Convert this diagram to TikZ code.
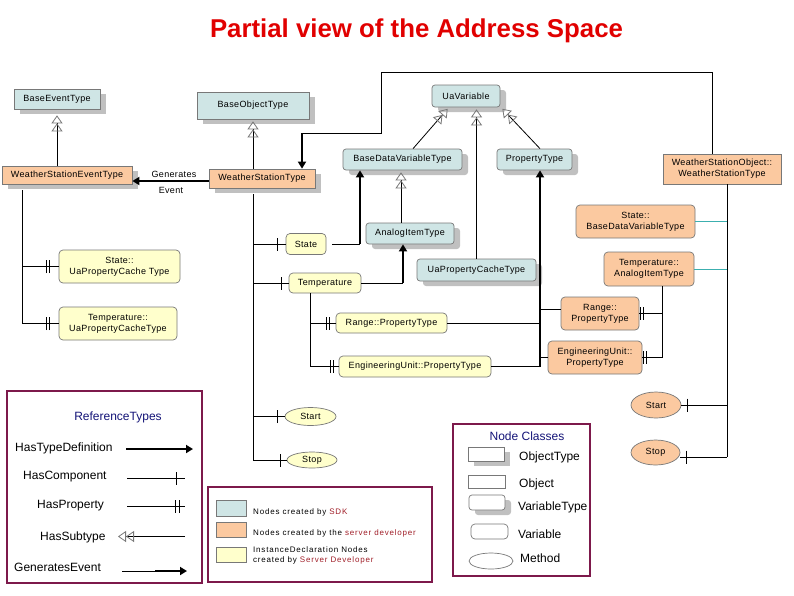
\documentclass[tikz,border=0pt]{standalone}
\usepackage{fontspec}
\setmainfont{Liberation Sans}
\newfontfamily\nodefnt[LetterSpace=4]{Liberation Sans}
\newfontfamily\legfnt[LetterSpace=10]{Liberation Sans}
\usetikzlibrary{arrows.meta,shapes.geometric,shadows,decorations.markings}
\definecolor{sdkc}{RGB}{207,229,229}
\definecolor{devc}{RGB}{251,201,160}
\definecolor{insc}{RGB}{255,255,204}
\definecolor{bordc}{RGB}{120,120,120}
\definecolor{shdc}{RGB}{192,192,192}
\definecolor{framec}{RGB}{125,25,75}
\definecolor{navyc}{RGB}{20,20,120}
\definecolor{dredc}{RGB}{160,30,40}
\definecolor{titc}{RGB}{225,0,0}
\definecolor{tealc}{RGB}{60,175,175}
\tikzset{
  nd/.style={draw=bordc, line width=0.7pt, inner sep=0pt, align=center, text=black,
    font=\nodefnt\fontsize{9}{11}\selectfont},
  shd/.style={drop shadow={shadow xshift=6pt, shadow yshift=-5pt, fill=shdc, opacity=1, draw=none}},
  otype/.style={nd, rectangle, shd},
  vtype/.style={nd, rectangle, rounded corners=3pt, shd},
  obj/.style={nd, rectangle},
  var/.style={nd, rectangle, rounded corners=4pt},
  meth/.style={nd, ellipse},
  sdk/.style={fill=sdkc}, dev/.style={fill=devc}, ins/.style={fill=insc},
  sz/.style 2 args={minimum width=#1pt, minimum height=#2pt},
  lbl/.style={inner sep=0pt, font=\nodefnt\fontsize{9}{11}\selectfont},
  lgt/.style={inner sep=0pt, font=\fontsize{12}{14}\selectfont},
  lgs/.style={inner sep=0pt, align=left, font=\legfnt\fontsize{8}{10}\selectfont},
  frm/.style={draw=framec, line width=1.6pt, inner sep=0pt},
  swatch/.style={draw=bordc, line width=0.7pt, inner sep=0pt},
  conn/.style={draw=black, line width=0.8pt},
  tealln/.style={draw=tealc, line width=0.8pt},
  typedef/.style={draw=black, line width=2.2pt, -{Triangle[length=7pt,width=8pt]}},
  genev/.style={draw=black, line width=1.8pt, -{Triangle[length=7pt,width=8pt]}},
  subtype/.style={conn, -{Triangle[color=bordc,open,length=8pt,width=11pt,line width=0.8pt]Triangle[color=bordc,open,length=8pt,width=11pt,line width=0.8pt]}, shorten >=2pt},
  hascomp/.style={postaction={decorate, decoration={markings,
      mark=at position -#1 with {\draw[line width=0.8pt] (0pt,-6.5pt) -- (0pt,6.5pt);}}}},
  hascomp/.default=7pt,
  hasprop/.style={postaction={decorate, decoration={markings,
      mark=at position -#1 with {\draw[line width=0.8pt] (0pt,-6.5pt) -- (0pt,6.5pt) (-3.3pt,-6.5pt) -- (-3.3pt,6.5pt);}}}},
  hasprop/.default=6pt,
}
\begin{document}
\begin{tikzpicture}[x=1pt,y=-1pt]
\fill[white] (0,0) rectangle (794,595);
\useasboundingbox (0,0) rectangle (794,595);

% title
\node[inner sep=0pt, anchor=base, text=titc, font=\bfseries\fontsize{25.8}{30}\selectfont] (title) at (416.5,37) {Partial view of the Address Space};

% type nodes
\node[otype, sdk, sz={86}{20}] (bet) at (57,99) {BaseEventType};
\node[otype, sdk, sz={112}{27}] (bot) at (253,105.5) {BaseObjectType};
\node[otype, dev, sz={130}{18}] (wset) at (67,175) {WeatherStationEventType};
\node[otype, dev, sz={106}{19}] (wst) at (262,178.5) {WeatherStationType};
\node[vtype, sdk, sz={68}{22}] (uav) at (466,96) {UaVariable};
\node[vtype, sdk, sz={119}{21}] (bdvt) at (402.5,159.5) {BaseDataVariableType};
\node[vtype, sdk, sz={75}{21}] (pt) at (534.5,159.5) {PropertyType};
\node[obj, dev, sz={118}{30}] (wso) at (722,169) {WeatherStationObject::\\WeatherStationType};
\node[vtype, sdk, sz={88}{21}] (ait) at (410,233.5) {AnalogItemType};
\node[vtype, sdk, sz={119}{22}] (upct) at (476.5,270) {UaPropertyCacheType};

% instance declarations
\node[var, ins, sz={40}{21}] (state) at (306,244) {State};
\node[var, ins, sz={72}{20}] (temp) at (325,283) {Temperature};
\node[var, ins, sz={111}{20}] (rng) at (391.5,323) {Range::PropertyType};
\node[var, ins, sz={152}{21}] (eng) at (415,366.5) {EngineeringUnit::PropertyType};
\node[var, ins, sz={121}{33}] (spc) at (119.5,266.5) {State::\\UaPropertyCache Type};
\node[var, ins, sz={118}{33}] (tpc) at (118,323.5) {Temperature::\\UaPropertyCacheType};
\node[meth, ins, sz={51}{18}] (start) at (310.5,416.5) {Start};
\node[meth, ins, sz={50}{16}] (stop) at (312,460) {Stop};

% developer instances
\node[var, dev, sz={119}{33}] (sbdv) at (635.5,221.5) {State::\\BaseDataVariableType};
\node[var, dev, sz={90}{34}] (tait) at (649,269) {Temperature::\\AnalogItemType};
\node[var, dev, sz={78}{33}] (rpo) at (600,313.5) {Range::\\PropertyType};
\node[var, dev, sz={94}{33}] (euo) at (595,357.5) {EngineeringUnit::\\PropertyType};
\node[meth, dev, sz={50}{26}] (starto) at (656,405) {Start};
\node[meth, dev, sz={49}{25}] (stopo) at (655.5,452.5) {Stop};

% subtype references
\draw[subtype, shorten >=6pt] (wset.north -| bet.south) -- (bet.south);
\draw[subtype] (wst.north -| bot.south) -- (bot.south);
\draw[subtype] ([xshift=10.5pt]bdvt.north) -- ([xshift=-17pt]uav.south);
\draw[subtype] (upct.north) -- (upct.north |- uav.south);
\draw[subtype] ([xshift=5.5pt]pt.north) -- ([xshift=35pt]uav.south);
\draw[subtype] ([xshift=-9pt]ait.north) -- ([xshift=-9pt]ait.north |- bdvt.south);

% generates event
\coordinate (geA) at ([yshift=-2.5pt]wst.west);
\draw[genev] (geA) -- (geA -| wset.east);
\node[lbl] (genlbl) at (174,174) {Generates};
\node[lbl] (evlbl) at (171,190) {Event};

% type definition of the object
\coordinate (tdA) at (712,72);
\coordinate (tdB) at (381,72);
\coordinate (tdC) at (381,133);
\coordinate (tdD) at (302,133);
\draw[conn] (tdA |- wso.north) -- (tdA) -- (tdB) -- (tdC) -- (tdD);
\draw[typedef] (tdD) -- (tdD |- wst.north);

% type definitions of the instance declarations
\coordinate (sbA) at (360,244);
\draw[conn] ([xshift=6pt]state.east) -- (sbA);
\draw[typedef] (sbA) -- (sbA |- bdvt.south);
\coordinate (taA) at (403,283);
\draw[conn] (temp.east) -- (taA);
\draw[typedef] (taA) -- (taA |- ait.south);
\coordinate (ptT) at (540,367);
\draw[typedef] (ptT) -- (ptT |- pt.south);
\draw[conn] (rng.east) -- (rng.east -| ptT);
\draw[conn] (eng.east) -- (eng.east -| ptT);
\coordinate (rpoW) at ([yshift=4.5pt]rpo.west);
\draw[conn] (rpoW -| ptT) -- (rpoW);
\draw[conn] (euo.west -| ptT) -- (euo.west);

% components of WeatherStationType
\coordinate (wT) at (253,460);
\draw[conn, shorten <=6pt] (wst.south -| wT) -- (wT);
\draw[conn, hascomp=8pt] (state.west -| wT) -- (state.west);
\draw[conn, hascomp] (temp.west -| wT) -- (temp.west);
\draw[conn, hascomp] (start.west -| wT) -- (start.west);
\draw[conn, hascomp=6pt] (stop.west -| wT) -- (stop.west);

% properties of Temperature
\coordinate (tT) at (310,366.5);
\draw[conn] (temp.south -| tT) -- (tT);
\draw[conn, hasprop=6pt] (rng.west -| tT) -- (rng.west);
\draw[conn, hasprop=5pt] (eng.west -| tT) -- (eng.west);

% properties of WeatherStationEventType
\coordinate (weT) at (22,323.5);
\draw[conn, shorten <=6pt] (wset.south -| weT) -- (weT);
\draw[conn, hasprop=9pt] (spc.west -| weT) -- (spc.west);
\draw[conn, hasprop=9pt] (tpc.west -| weT) -- (tpc.west);

% properties of Temperature::AnalogItemType
\coordinate (taT) at (662,357.5);
\draw[conn] (tait.south -| taT) -- (taT);
\draw[conn, hasprop=1pt] (rpo.east -| taT) -- (rpo.east);
\draw[conn, hasprop=1pt] (euo.east -| taT) -- (euo.east);

% components of the object
\coordinate (woT) at (727,457);
\draw[conn] (wso.south -| woT) -- (woT);
\draw[tealln] (sbdv.east) -- (sbdv.east -| woT);
\draw[tealln] (tait.east) -- (tait.east -| woT);
\draw[conn, hascomp=6pt] (starto.east -| woT) -- (starto.east);
\coordinate (stopoE) at ([yshift=-4.5pt]stopo.east);
\draw[conn, hascomp=6pt] (stopoE -| woT) -- (stopoE);

% legend: reference types
\node[frm, sz={195}{192}] (lg1) at (104.5,487) {};
\node[lgt, anchor=base, text=navyc] (lgRT) at (118,420) {ReferenceTypes};
\node[lgt, anchor=base west] (lgTD) at (15,451) {HasTypeDefinition};
\node[lgt, anchor=base west] (lgHC) at (23,479.5) {HasComponent};
\node[lgt, anchor=base west] (lgHP) at (37,508) {HasProperty};
\node[lgt, anchor=base west] (lgHS) at (40,540) {HasSubtype};
\node[lgt, anchor=base west] (lgGE) at (14,571.5) {GeneratesEvent};
\coordinate (tdS) at (126,449); \coordinate (tdE) at (193,449);
\draw[typedef] (tdS) -- (tdE);
\coordinate (hcS) at (127,478); \coordinate (hcE) at (185,478);
\draw[conn, hascomp=9pt] (hcS) -- (hcE);
\coordinate (hpS) at (127,506); \coordinate (hpE) at (185,506);
\draw[conn, hasprop=6pt] (hpS) -- (hpE);
\coordinate (hsS) at (185,536.5); \coordinate (hsE) at (118,536.5);
\draw[subtype, shorten >=0pt] (hsS) -- (hsE);
\coordinate (geS) at (122,571); \coordinate (geM) at (155,571); \coordinate (geE) at (187,571);
\draw[conn] (geS) -- (geM);
\draw[genev] (geM) -- (geE);

% legend: colours
\node[frm, sz={224}{95}] (lg2) at (320,534.5) {};
\node[swatch, fill=sdkc, sz={30}{16}] (sw1) at (231,508) {};
\node[swatch, fill=devc, sz={30}{15}] (sw2) at (231,529.5) {};
\node[swatch, fill=insc, sz={30}{15}] (sw3) at (231,554.5) {};
\node[lgs, anchor=base west] (lc1) at (253,514) {Nodes created by \textcolor{dredc}{SDK}};
\node[lgs, anchor=base west] (lc2) at (253,535.5) {Nodes created by the \textcolor{dredc}{server developer}};
\node[lgs, anchor=west] (lc3) at (253,555.5) {InstanceDeclaration Nodes\\created by \textcolor{dredc}{Server Developer}};

% legend: node classes
\node[frm, sz={137}{152}] (lg3) at (521.5,500) {};
\node[lgt, anchor=base, text=navyc] (ncT) at (527,440.5) {Node Classes};
\node[otype, fill=white, sz={36}{14}] (ncOT) at (486,454) {};
\node[obj, fill=white, sz={37}{13}] (ncO) at (486.5,481.5) {};
\node[vtype, fill=white, sz={36}{15}] (ncVT) at (487,502.5) {};
\node[var, fill=white, sz={37}{15}] (ncV) at (489.5,531.5) {};
\node[meth, fill=white, sz={44}{16}] (ncM) at (491,561) {};
\node[lgt, anchor=base west] (ncOTt) at (519,460.5) {ObjectType};
\node[lgt, anchor=base west] (ncOt) at (519,487) {Object};
\node[lgt, anchor=base west] (ncVTt) at (518,510.5) {VariableType};
\node[lgt, anchor=base west] (ncVt) at (518,538.5) {Variable};
\node[lgt, anchor=base west] (ncMt) at (520,562) {Method};
\end{tikzpicture}
\end{document}
